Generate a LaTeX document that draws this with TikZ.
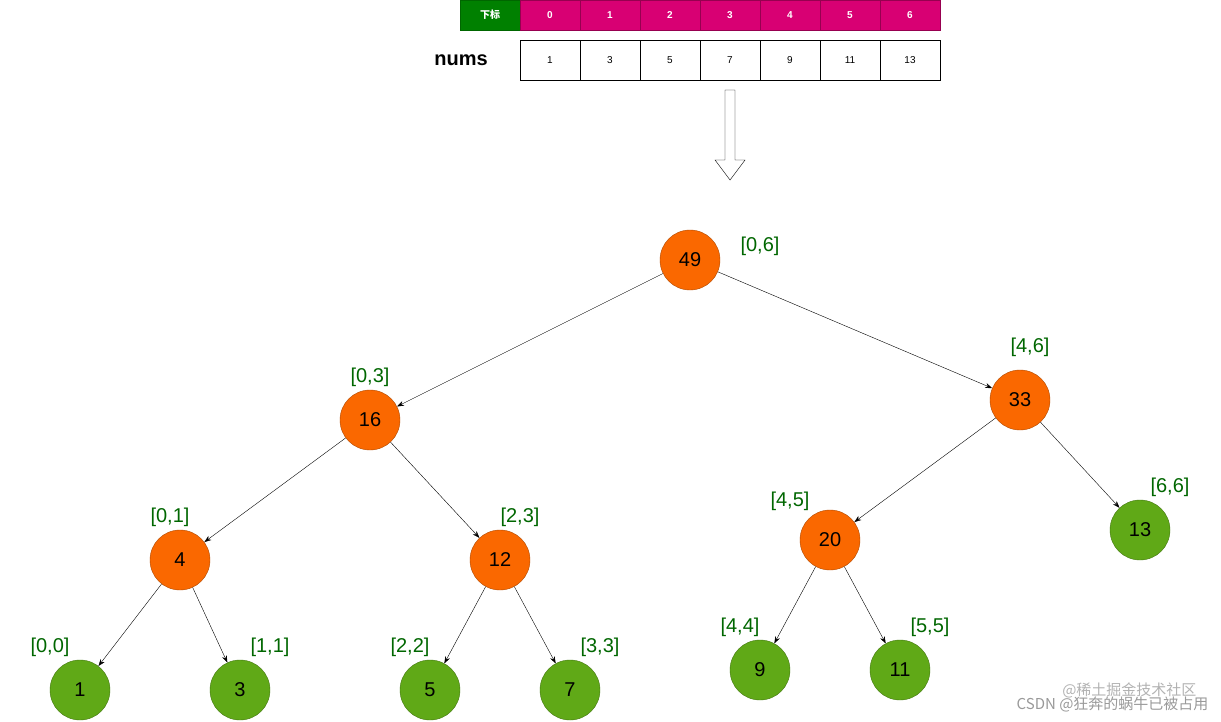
\documentclass[tikz,border=0pt]{standalone}
\usepackage{fontspec}
\setmainfont{Liberation Sans}
\newfontfamily\cjk{Noto Sans CJK SC}
\usetikzlibrary{arrows.meta}
\definecolor{org}{HTML}{FA6800}
\definecolor{grn}{HTML}{60A917}
\definecolor{lab}{HTML}{006600}
\definecolor{mag}{HTML}{D80073}
\begin{document}
\begin{tikzpicture}[x=1pt,y=-1pt,
 inner/.style={circle,draw=#1!70!black,fill=#1,minimum size=60pt,inner sep=0pt,font=\fontsize{20}{20}\selectfont},
 rng/.style={text=lab,font=\fontsize{20}{20}\selectfont},
 cell/.style={draw,minimum width=60pt,minimum height=40pt,inner sep=0pt,font=\fontsize{10}{10}\selectfont},
 hcell/.style={draw=mag!70!black,fill=mag,text=white,minimum width=60pt,minimum height=30pt,inner sep=0pt,font=\bfseries\fontsize{10}{10}\selectfont},
 edge/.style={-{Stealth[length=7pt,width=5pt]}}]
\useasboundingbox (0,0) rectangle (1221,721);
\node[hcell,fill=green!50!black,draw=green!40!black] (h) at (490,15) {\cjk\fontsize{10}{10}\selectfont 下标};
\foreach \i in {0,...,6}{
 \node[hcell] (h\i) at (550+60*\i,15) {\i};}
\node[font=\bfseries\fontsize{20}{20}\selectfont] (lbl) at (461,60) {nums};
\foreach \v [count=\i from 0] in {1,3,5,7,9,11,13}{
 \node[cell] (c\i) at (550+60*\i,60) {\v};}
\draw (725,90) -- (735,90) -- (735,160) -- (745,160) -- (730,180) -- (715,160) -- (725,160) -- cycle;
\node[inner=org] (n49) at (690,260) {49};
\node[inner=org] (n16) at (370,420) {16};
\node[inner=org] (n33) at (1020,400) {33};
\node[inner=org] (n4) at (180,560) {4};
\node[inner=org] (n12) at (500,560) {12};
\node[inner=org] (n20) at (830,540) {20};
\node[inner=grn] (n13) at (1140,530) {13};
\node[inner=grn] (n1) at (80,690) {1};
\node[inner=grn] (n3) at (240,690) {3};
\node[inner=grn] (n5) at (430,690) {5};
\node[inner=grn] (n7) at (570,690) {7};
\node[inner=grn] (n9) at (760,670) {9};
\node[inner=grn] (n11) at (900,670) {11};
\node[rng] at (760,246) {[0,6]};
\node[rng] at (370,377) {[0,3]};
\node[rng] at (1030,347) {[4,6]};
\node[rng] at (170,517) {[0,1]};
\node[rng] at (520,517) {[2,3]};
\node[rng] at (790,501) {[4,5]};
\node[rng] at (1170,487) {[6,6]};
\node[rng] at (50,647) {[0,0]};
\node[rng] at (270,647) {[1,1]};
\node[rng] at (410,647) {[2,2]};
\node[rng] at (600,647) {[3,3]};
\node[rng] at (740,627) {[4,4]};
\node[rng] at (930,627) {[5,5]};
\foreach \a/\b in {n49/n16,n49/n33,n16/n4,n16/n12,n33/n20,n33/n13,n4/n1,n4/n3,n12/n5,n12/n7,n20/n9,n20/n11}
 \draw[edge] (\a) -- (\b);
\node[text=gray!60,font=\cjk\fontsize{15}{15}\selectfont,anchor=east] at (1200,690) {@稀土掘金技术社区};
\node[text=gray!80,font=\cjk\fontsize{15}{15}\selectfont,anchor=east] at (1212,704) {CSDN @狂奔的蜗牛已被占用};
\end{tikzpicture}
\end{document}
